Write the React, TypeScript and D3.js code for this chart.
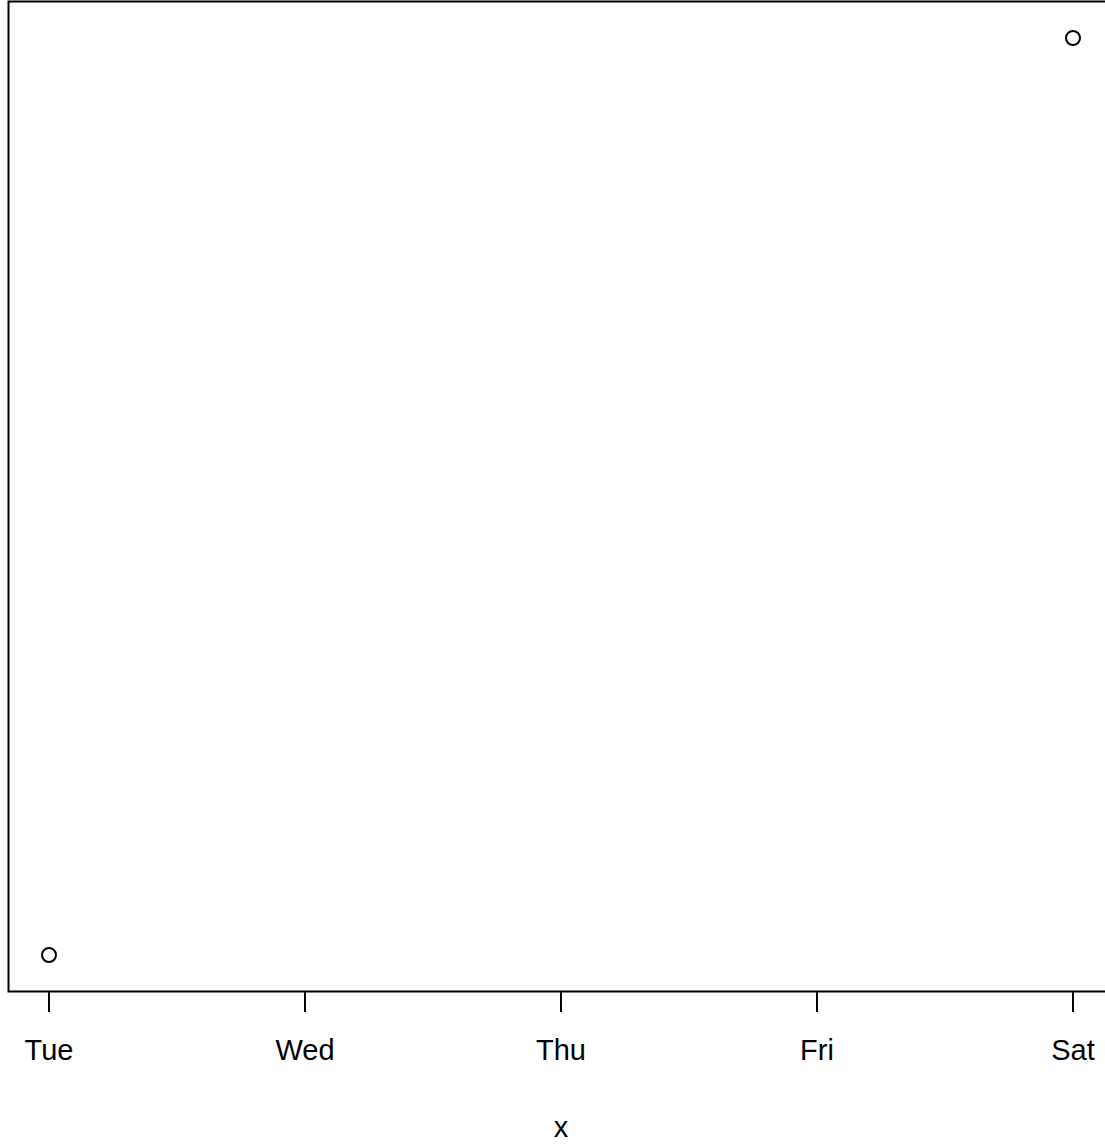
import { useEffect, useRef } from "react";
import * as d3 from "d3";

const width = 1105;
const height = 1146;

// observations: one on a Tuesday, one on the following Saturday
const dates = ["2024-01-02", "2024-01-06"];
const values = [1, 2];
const tickDays = ["2024-01-02", "2024-01-03", "2024-01-04", "2024-01-05", "2024-01-06"];

export default function App() {
  const svgRef = useRef<SVGSVGElement>(null);

  useEffect(() => {
    if (!svgRef.current) return;
    const svg = d3.select(svgRef.current);
    svg.selectAll("*").remove();

    const parse = d3.utcParse("%Y-%m-%d");
    const pts = dates.map((d, i) => ({ date: parse(d) as Date, value: values[i] }));
    const ticks = tickDays.map((d) => parse(d) as Date);

    const x = d3
      .scaleUtc()
      .domain([ticks[0], ticks[ticks.length - 1]])
      .range([49, 1073]);
    const y = d3.scaleLinear().domain([1, 2]).range([955, 38]);

    const font = "Liberation Sans, Arial, Helvetica, sans-serif";

    // plot box (right side runs off the canvas)
    svg
      .append("path")
      .attr("d", `M1110,1.5 H8.5 V991.5 H1110`)
      .attr("fill", "none")
      .attr("stroke", "#000")
      .attr("stroke-width", 2);

    const axis = svg.append("g");
    axis
      .selectAll("line")
      .data(ticks)
      .join("line")
      .attr("x1", (d) => x(d))
      .attr("x2", (d) => x(d))
      .attr("y1", 991)
      .attr("y2", 1012)
      .attr("stroke", "#000")
      .attr("stroke-width", 2);

    axis
      .selectAll("text")
      .data(ticks)
      .join("text")
      .attr("x", (d) => x(d))
      .attr("y", 1060)
      .attr("text-anchor", "middle")
      .attr("font-family", font)
      .attr("font-size", 29)
      .text((d) => d3.utcFormat("%a")(d));

    svg
      .append("text")
      .attr("x", 561)
      .attr("y", 1137)
      .attr("text-anchor", "middle")
      .attr("font-family", font)
      .attr("font-size", 29)
      .text("x");

    svg
      .append("g")
      .selectAll("circle")
      .data(pts)
      .join("circle")
      .attr("cx", (d) => x(d.date))
      .attr("cy", (d) => y(d.value))
      .attr("r", 7)
      .attr("fill", "none")
      .attr("stroke", "#000")
      .attr("stroke-width", 2);
  }, []);

  return (
    <div style={{ position: "absolute", left: 0, top: 0, background: "#fff" }}>
      <svg ref={svgRef} width={width} height={height} style={{ display: "block" }} />
    </div>
  );
}
